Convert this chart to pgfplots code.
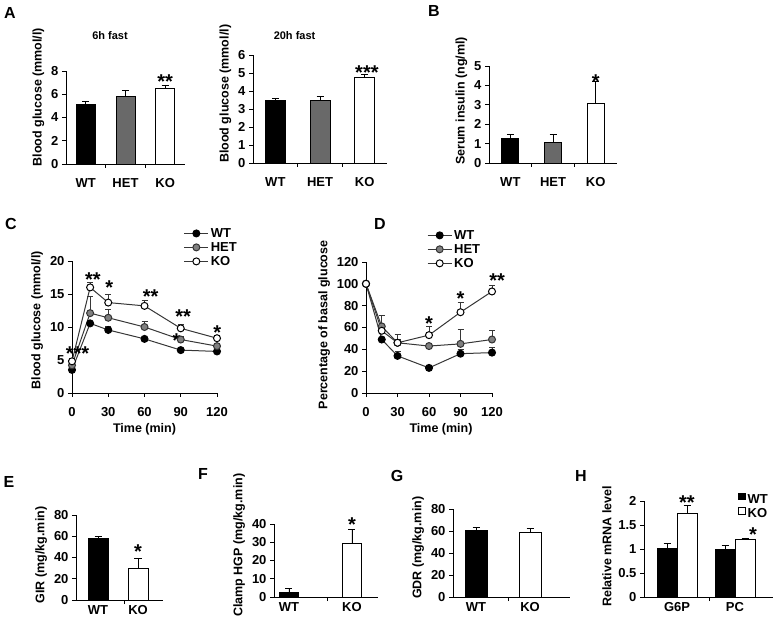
\documentclass[border=0pt]{standalone}
\usepackage{fontspec}
\setmainfont{Liberation Sans}
\usepackage{pgfplots}
\pgfplotsset{compat=1.18}
\definecolor{hetgray}{RGB}{105,105,105}
\definecolor{hetmark}{RGB}{128,128,128}
\definecolor{linegray}{RGB}{55,55,55}
\tikzset{
  star/.style={font=\fontsize{20}{20}\selectfont\bfseries, anchor=north, inner sep=0pt},
  letter/.style={font=\fontsize{16}{16}\selectfont\bfseries, inner sep=0pt},
}
\pgfplotsset{
  base/.style={
    scale only axis, anchor=south west, clip=false,
    axis x line=bottom, axis y line=left,
    axis line style={-, line width=0.9pt, black},
    tick align=outside, major tick length=4pt,
    tick style={line width=0.9pt, black},
    ymin=0,
    /pgf/number format/assume math mode=true,
    tick label style={font=\fontsize{13}{13}\selectfont\bfseries},
    ylabel style={font=\fontsize{12.5}{13}\selectfont\bfseries},
    xlabel style={font=\fontsize{12.5}{13}\selectfont\bfseries},
    title style={font=\fontsize{11}{12}\selectfont\bfseries},
  },
  barax/.style={base,
    major x tick style={draw=none},
    extra x tick style={major x tick style={draw=black}},
    extra x tick labels={},
  },
  bar/.style={ybar, bar shift=0pt, draw=black, line width=0.9pt,
    error bars/y dir=plus, error bars/y explicit,
    error bars/error bar style={line width=0.9pt, black},
    error bars/error mark options={rotate=90, mark size=3.5pt, line width=0.9pt, black}},
  ser/.style={linegray, line width=1pt, mark=*, mark size=3.5pt,
    error bars/y dir=plus, error bars/y explicit,
    error bars/error bar style={line width=0.8pt, linegray},
    error bars/error mark options={rotate=90, mark size=3pt, line width=0.8pt, linegray}},
  wt/.style={ser, mark options={fill=black, draw=black, solid}},
  het/.style={ser, mark options={fill=hetmark, draw=black!80, solid}},
  ko/.style={ser, mark options={fill=white, draw=black, solid}},
  linelegend/.style={
    legend style={draw=none, fill=none, font=\fontsize{13}{13}\selectfont\bfseries, row sep=-0.5pt, inner sep=0pt},
    legend cell align=left,
    legend image code/.code={\draw[mark repeat=2,mark phase=2,##1] plot coordinates {(0pt,0pt) (12pt,0pt) (24pt,0pt)};},
  },
}
\begin{document}
\begin{tikzpicture}
\useasboundingbox (0,0) rectangle (781pt,616pt);

% Panel letters
\node[letter] at (10pt,603pt) {A};
\node[letter] at (434pt,605pt) {B};
\node[letter] at (11pt,392pt) {C};
\node[letter] at (380pt,392pt) {D};
\node[letter] at (9pt,134pt) {E};
\node[letter] at (203pt,142pt) {F};
\node[letter] at (397pt,140pt) {G};
\node[letter] at (581pt,140pt) {H};

% ---------- A left ----------
\begin{axis}[barax, at={(66pt,452pt)}, width=119pt, height=93pt,
  xmin=-0.5, xmax=2.5, ymax=8, ytick={0,2,4,6,8},
  xtick={0,1,2}, xticklabels={WT,HET,KO}, extra x ticks={0.5,1.5},
  xticklabel style={yshift=-7pt},
  ylabel={Blood glucose (mmol/l)}, ylabel style={at={(ticklabel cs:0.72)}},
  title={6h fast}, title style={at={(0.37,1.315)}, anchor=center}]
\addplot[bar, bar width=19pt, fill=black] coordinates {(0,5.1) +- (0,0.25)};
\addplot[bar, bar width=19pt, fill=hetgray] coordinates {(1,5.8) +- (0,0.5)};
\addplot[bar, bar width=19pt, fill=white] coordinates {(2,6.5) +- (0,0.3)};
\node[star] at (axis cs:2,7.66) {**};
\end{axis}

% ---------- A right ----------
\begin{axis}[barax, at={(253pt,453pt)}, width=134pt, height=108pt,
  xmin=-0.5, xmax=2.5, ymax=6, ytick={0,1,2,3,4,5,6},
  xtick={0,1,2}, xticklabels={WT,HET,KO}, extra x ticks={0.5,1.5},
  xticklabel style={yshift=-7pt},
  ylabel={Blood glucose (mmol/l)}, ylabel style={at={(ticklabel cs:0.64)}},
  title={20h fast}, title style={at={(0.31,1.12)}, anchor=center}]
\addplot[bar, bar width=20pt, fill=black] coordinates {(0,3.5) +- (0,0.1)};
\addplot[bar, bar width=20pt, fill=hetgray] coordinates {(1,3.5) +- (0,0.2)};
\addplot[bar, bar width=20pt, fill=white] coordinates {(2,4.75) +- (0,0.15)};
\node[star] at (axis cs:2.05,5.44) {***};
\end{axis}

% ---------- B ----------
\begin{axis}[barax, at={(489pt,453pt)}, width=128pt, height=97pt,
  xmin=-0.5, xmax=2.5, ymax=5, ytick={0,1,2,3,4,5},
  xtick={0,1,2}, xticklabels={WT,HET,KO}, extra x ticks={0.5,1.5},
  xticklabel style={yshift=-7pt},
  ylabel={Serum insulin (ng/ml)}, ylabel style={at={(ticklabel cs:0.64)}}]
\addplot[bar, bar width=17pt, fill=black] coordinates {(0,1.25) +- (0,0.2)};
\addplot[bar, bar width=17pt, fill=hetgray] coordinates {(1,1.05) +- (0,0.4)};
\addplot[bar, bar width=17pt, fill=white] coordinates {(2,3.05) +- (0,1.15)};
\node[star] at (axis cs:2,4.54) {*};
\end{axis}

% ---------- C ----------
\begin{axis}[base, linelegend, at={(72pt,223pt)}, width=145pt, height=132pt,
  xmin=0, xmax=120, ymax=20, xtick={0,30,60,90,120}, ytick={0,5,10,15,20},
  xticklabel style={yshift=-7pt},
  xlabel={Time (min)},
  ylabel={Blood glucose (mmol/l)}, ylabel style={at={(ticklabel cs:0.55)}},
  legend style={at={(0.77,1.265)}, anchor=north west}]
\addplot[wt] coordinates {(0,3.5) +- (0,0.2) (15,10.55) +- (0,0.3) (30,9.55) +- (0,0.6) (60,8.2) +- (0,0.3) (90,6.5) +- (0,0.2) (120,6.3) +- (0,0.2)};
\addplot[het] coordinates {(0,4.2) +- (0,0.3) (15,12.1) +- (0,2.6) (30,11.4) +- (0,1.3) (60,10.0) +- (0,0.9) (90,8.1) +- (0,0.5) (120,7.1) +- (0,0.3)};
\addplot[ko] coordinates {(0,4.8) +- (0,0.4) (15,16.0) +- (0,0.7) (30,13.7) +- (0,1.2) (60,13.2) +- (0,0.9) (90,9.8) +- (0,0.6) (120,8.3) +- (0,0.4)};
\legend{WT,HET,KO}
\node[star] at (axis cs:4.6,7.1) {***};
\node[star] at (axis cs:17.2,18.3) {**};
\node[star] at (axis cs:30.8,17.0) {*};
\node[star] at (axis cs:65,15.7) {**};
\node[star] at (axis cs:92,12.6) {**};
\node[star] at (axis cs:86.5,9.0) {*};
\node[star] at (axis cs:120.3,10.2) {*};
\end{axis}

% ---------- D ----------
\begin{axis}[base, linelegend, at={(366pt,223pt)}, width=126pt, height=131pt,
  xmin=0, xmax=120, ymax=120, xtick={0,30,60,90,120}, ytick={0,20,40,60,80,100,120},
  xticklabel style={yshift=-7pt},
  xlabel={Time (min)}, xlabel style={xshift=12pt},
  ylabel={Percentage of basal glucose}, ylabel style={at={(ticklabel cs:0.52)}},
  legend style={at={(0.484,1.26)}, anchor=north west}]
\addplot[wt] coordinates {(0,100) +- (0,0) (15,49) +- (0,2) (30,34) +- (0,4) (60,23) +- (0,2) (90,36) +- (0,4) (120,37) +- (0,5)};
\addplot[het] coordinates {(0,100) +- (0,0) (15,61) +- (0,10) (30,46) +- (0,8) (60,43) +- (0,0) (90,45) +- (0,13) (120,49) +- (0,8)};
\addplot[ko] coordinates {(0,100) +- (0,0) (15,57) +- (0,5) (30,46) +- (0,3) (60,53) +- (0,8) (90,74) +- (0,8.6) (120,93) +- (0,5.5)};
\legend{WT,HET,KO}
\node[star] at (axis cs:60,69.9) {*};
\node[star] at (axis cs:90,92.7) {*};
\node[star] at (axis cs:124.8,109) {**};
\end{axis}

% ---------- E ----------
\begin{axis}[barax, at={(76pt,16pt)}, width=87pt, height=85pt,
  xmin=-0.55, xmax=1.625, ymax=80, ytick={0,20,40,60,80},
  xtick={0,1}, xticklabels={WT,KO}, extra x ticks={0.65},
  xticklabel style={yshift=2pt},
  ylabel={GIR (mg/kg.min)}, ylabel style={at={(ticklabel cs:0.53)}}]
\addplot[bar, bar width=20pt, fill=black] coordinates {(0,57.5) +- (0,2)};
\addplot[bar, bar width=20pt, fill=white] coordinates {(1,30) +- (0,9.5)};
\node[star] at (axis cs:1,51.8) {*};
\end{axis}

% ---------- F ----------
\begin{axis}[barax, at={(274pt,19pt)}, width=104pt, height=73pt,
  xmin=-0.238, xmax=1.413, ymax=40, ytick={0,10,20,30,40},
  xtick={0,1}, xticklabels={WT,KO}, extra x ticks={0.603},
  xticklabel style={yshift=2pt},
  ylabel={Clamp HGP (mg/kg.min)}, ylabel style={at={(ticklabel cs:0.71)}}]
\addplot[bar, bar width=19pt, fill=black] coordinates {(0,2.5) +- (0,2)};
\addplot[bar, bar width=19pt, fill=white] coordinates {(1,29.5) +- (0,7.5)};
\node[star] at (axis cs:1,43.8) {*};
\end{axis}

% ---------- G ----------
\begin{axis}[barax, at={(453pt,19pt)}, width=117pt, height=88pt,
  xmin=-0.426, xmax=1.74, ymax=80, ytick={0,20,40,60,80},
  xtick={0,1}, xticklabels={WT,KO}, extra x ticks={0.593},
  xticklabel style={yshift=2pt},
  ylabel={GDR (mg/kg.min)}, ylabel style={at={(ticklabel cs:0.56)}}]
\addplot[bar, bar width=22pt, fill=black] coordinates {(0,60.5) +- (0,2.5)};
\addplot[bar, bar width=22pt, fill=white] coordinates {(1,58.5) +- (0,4)};
\end{axis}

% ---------- H ----------
\begin{axis}[barax, at={(644pt,19pt)}, width=129pt, height=96pt,
  xmin=-0.569, xmax=1.655, ymax=2, ytick={0,0.5,1,1.5,2},
  xtick={0,1}, xticklabels={G6P,PC}, extra x ticks={0.552},
  xticklabel style={yshift=2pt},
  ylabel={Relative mRNA level}, ylabel style={at={(ticklabel cs:0.53)}},
  legend style={at={(0.73,1.095)}, anchor=north west, draw=none, fill=none,
    font=\fontsize{13}{13}\selectfont\bfseries, row sep=0pt, inner sep=0pt},
  legend cell align=left,
  legend image code/.code={\draw[#1,/tikz/.cd,line width=0.8pt] (0pt,-0.5pt) rectangle (6.5pt,6pt);}]
\addplot[bar, bar width=20pt, fill=black] coordinates {(-0.1724,1.02) +- (0,0.1) (0.8276,1.0) +- (0,0.07)};
\addplot[bar, bar width=20pt, fill=white] coordinates {(0.1724,1.75) +- (0,0.16) (1.1724,1.19) +- (0,0.04)};
\legend{WT,KO}
\node[star] at (axis cs:0.172,2.12) {**};
\node[star] at (axis cs:1.31,1.44) {*};
\end{axis}
\end{tikzpicture}
\end{document}
